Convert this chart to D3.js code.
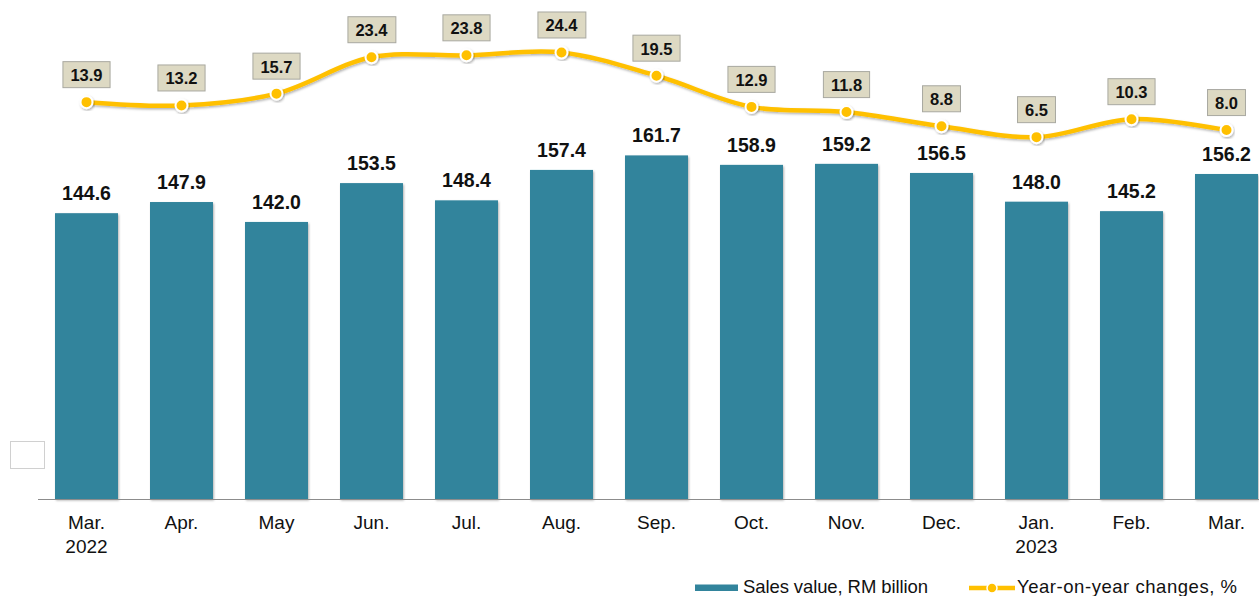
<!DOCTYPE html>
<html>
<head>
<meta charset="utf-8">
<script src="https://cdn.jsdelivr.net/npm/d3@7"></script>
<style>
  body { margin: 0; background: #fff; }
  svg { display: block; font-family: Arial, "Liberation Sans", sans-serif; }
</style>
</head>
<body>
<script>
// monthly categories (second line = year)
var months = ["Mar.", "Apr.", "May", "Jun.", "Jul.", "Aug.", "Sep.", "Oct.", "Nov.", "Dec.", "Jan.", "Feb.", "Mar."]
var years = ["2022", "", "", "", "", "", "", "", "", "", "2023", "", ""]
// sales value, RM billion
var sales = [144.6, 147.9, 142.0, 153.5, 148.4, 157.4, 161.7, 158.9, 159.2, 156.5, 148.0, 145.2, 156.2]
// year-on-year change, %
var yoy = [13.9, 13.2, 15.7, 23.4, 23.8, 24.4, 19.5, 12.9, 11.8, 8.8, 6.5, 10.3, 8.0]

var w = 1259
var h = 596
var plotBase = 499, plotTop = 26

var barColor = "#32849c"
var lineColor = "#ffc000"

var svg = d3.select("body")
            .append("svg")
            .attr("width", w)
            .attr("height", h)

// drop shadows
var defs = svg.append("defs")
var f = defs.append("filter").attr("id", "shadow")
            .attr("x", "-20%").attr("y", "-20%").attr("width", "140%").attr("height", "140%")
f.append("feDropShadow").attr("dx", 1).attr("dy", 1.5).attr("stdDeviation", 1.2)
 .attr("flood-color", "#000").attr("flood-opacity", 0.3)

var idx = months.map(function(d, i) { return i })

var xScale = d3.scaleBand()
               .domain(idx)
               .range([39, 1274])
               .paddingInner(0.337)
               .paddingOuter(0.337 / 2)

var yScale = d3.scaleLinear().domain([60, 200]).range([plotBase, plotTop])
var y2Scale = d3.scaleLinear().domain([-70, 30]).range([plotBase, plotTop])

var cx = function(i) { return xScale(i) + xScale.bandwidth() / 2 }

// little empty box at left
svg.append("rect")
   .attr("x", 10.5).attr("y", 441.5).attr("width", 34).attr("height", 27)
   .attr("fill", "#fff").attr("stroke", "#d0d0d0")

// bars
svg.selectAll(".bar")
   .data(sales)
   .enter()
   .append("rect")
   .attr("class", "bar")
   .attr("x", function(d, i) { return xScale(i) })
   .attr("y", function(d) { return yScale(d) })
   .attr("width", xScale.bandwidth())
   .attr("height", function(d) { return plotBase - yScale(d) })
   .attr("fill", barColor)
   .attr("filter", "url(#shadow)")

// bar labels
svg.selectAll(".barlabel")
   .data(sales)
   .enter()
   .append("text")
   .attr("x", function(d, i) { return cx(i) })
   .attr("y", function(d) { return yScale(d) - 13 })
   .attr("text-anchor", "middle")
   .style("font-size", "19.5px")
   .style("font-weight", "bold")
   .attr("fill", "#111")
   .text(function(d) { return d.toFixed(1) })

// x axis
svg.append("line")
   .attr("x1", 38).attr("x2", w)
   .attr("y1", plotBase + 0.5).attr("y2", plotBase + 0.5)
   .attr("stroke", "#8c8c8c").attr("stroke-width", 1.2)

var xl = svg.selectAll(".xlabel")
            .data(idx)
            .enter()
            .append("text")
            .attr("text-anchor", "middle")
            .style("font-size", "19px")
            .attr("fill", "#111")
xl.append("tspan")
  .attr("x", function(i) { return cx(i) })
  .attr("y", 529)
  .text(function(i) { return months[i] })
xl.append("tspan")
  .attr("x", function(i) { return cx(i) })
  .attr("y", 553)
  .text(function(i) { return years[i] })

// yoy line
var line = d3.line()
             .x(function(d, i) { return cx(i) })
             .y(function(d) { return y2Scale(d) })
             .curve(d3.curveCatmullRom.alpha(0.5))

svg.append("path")
   .datum(yoy)
   .attr("d", line)
   .attr("fill", "none")
   .attr("stroke", lineColor)
   .attr("stroke-width", 4.5)
   .attr("filter", "url(#shadow)")

svg.selectAll(".dot")
   .data(yoy)
   .enter()
   .append("circle")
   .attr("cx", function(d, i) { return cx(i) })
   .attr("cy", function(d) { return y2Scale(d) })
   .attr("r", 6)
   .attr("fill", lineColor)
   .attr("stroke", "#fff")
   .attr("stroke-width", 2)
   .attr("filter", "url(#shadow)")

// yoy labels in boxes
var lab = svg.selectAll(".yoylabel")
             .data(yoy)
             .enter()
             .append("g")
lab.append("text")
   .attr("x", function(d, i) { return cx(i) })
   .attr("y", function(d) { return y2Scale(d) - 21 })
   .attr("text-anchor", "middle")
   .style("font-size", "16.5px")
   .style("font-weight", "bold")
   .attr("fill", "#111")
   .text(function(d) { return d.toFixed(1) })
lab.each(function() {
  var g = d3.select(this)
  var bb = g.select("text").node().getBBox()
  var yb = parseFloat(g.select("text").attr("y"))
  g.insert("rect", "text")
   .attr("x", bb.x - 7.5)
   .attr("y", yb - 20 + 0.5)
   .attr("width", bb.width + 15)
   .attr("height", 26)
   .attr("fill", "#ddd9c3")
   .attr("stroke", "#a8a8a0")
   .attr("stroke-width", 1)
})

// legend
svg.append("rect")
   .attr("x", 695).attr("y", 584.5).attr("width", 43).attr("height", 6.5)
   .attr("fill", barColor)
svg.append("text")
   .attr("x", 743).attr("y", 593)
   .style("font-size", "18.5px").attr("fill", "#111")
   .attr("textLength", 185).attr("lengthAdjust", "spacing")
   .text("Sales value, RM billion")

svg.append("line")
   .attr("x1", 969).attr("x2", 1015).attr("y1", 588).attr("y2", 588)
   .attr("stroke", lineColor).attr("stroke-width", 4.5)
svg.append("circle")
   .attr("cx", 992).attr("cy", 588).attr("r", 5)
   .attr("fill", lineColor).attr("stroke", "#fff").attr("stroke-width", 1.5)
svg.append("text")
   .attr("x", 1017).attr("y", 593)
   .style("font-size", "18.5px").attr("fill", "#111")
   .attr("textLength", 220).attr("lengthAdjust", "spacing")
   .text("Year-on-year changes, %")
</script>
</body>
</html>
